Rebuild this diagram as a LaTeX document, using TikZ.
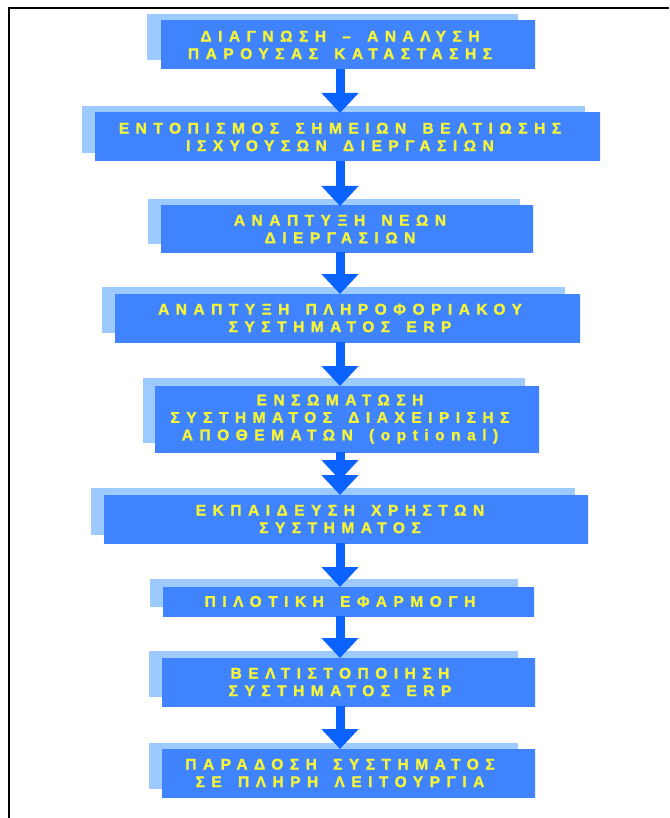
\documentclass[tikz,border=0pt]{standalone}
\usepackage{fontspec}
\usetikzlibrary{arrows.meta,fit,calc}
\newfontfamily\stepfont[LetterSpace=42,WordSpace=1.5,FakeBold=1.6]{Liberation Sans Bold}

\definecolor{shadowblue}{HTML}{9DCBFF}
\definecolor{boxedge}{HTML}{4083FF}
\definecolor{boxmid}{HTML}{1C63FF}
\definecolor{arrowblue}{HTML}{0A62FF}
\definecolor{labelyellow}{HTML}{F4F43A}

% one stage: shadow corners, main box corners, label
\newcommand\flowstage[6]{%
  \node[shadowbox, fit={(#2) (#3)}] (s#1) {};
  \node[mainbox, fit={(#4) (#5)}] (m#1) {};
  \node[steptext] (t#1) at (m#1.center -| axis) {#6};
}

\begin{document}
\begin{tikzpicture}[x=1pt,y=-1pt,
  shadowbox/.style={fill=shadowblue, draw=none, inner sep=0pt, outer sep=0pt},
  mainbox/.style={left color=boxedge, middle color=boxmid, right color=boxedge,
    draw=none, inner sep=0pt, outer sep=0pt},
  steptext/.style={text=labelyellow, font=\stepfont\fontsize{15.5}{17.5}\selectfont,
    align=center, inner sep=0pt},
  flow/.style={draw=arrowblue, line width=9pt, -{Triangle[length=20pt,width=36pt]}}]
\useasboundingbox (0,0) rectangle (669,818);
\fill[white] (0,0) rectangle (669,818);
\coordinate (axis) at (340,0);

% frame
\draw[line width=2pt] (669,7.7) -- (8.9,7.7) -- (8.9,818);

\flowstage{1}{147,14}{518,60}{161,21}{535,69}{ΔΙΑΓΝΩΣΗ – ΑΝΑΛΥΣΗ\\ΠΑΡΟΥΣΑΣ ΚΑΤΑΣΤΑΣΗΣ}
\flowstage{2}{82,106}{585,153}{95,113}{600,161}{ΕΝΤΟΠΙΣΜΟΣ ΣΗΜΕΙΩΝ ΒΕΛΤΙΩΣΗΣ\\ΙΣΧΥΟΥΣΩΝ ΔΙΕΡΓΑΣΙΩΝ}
\flowstage{3}{148,199}{520,244}{161,206}{533,252}{ΑΝΑΠΤΥΞΗ ΝΕΩΝ\\ΔΙΕΡΓΑΣΙΩΝ}
\flowstage{4}{102,287}{565,333}{115,294}{580,342}{ΑΝΑΠΤΥΞΗ ΠΛΗΡΟΦΟΡΙΑΚΟΥ\\ΣΥΣΤΗΜΑΤΟΣ ERP}
\flowstage{5}{143,378}{525,443}{155,386}{539,452}{ΕΝΣΩΜΑΤΩΣΗ\\ΣΥΣΤΗΜΑΤΟΣ ΔΙΑΧΕΙΡΙΣΗΣ\\ΑΠΟΘΕΜΑΤΩΝ (optional)}
\flowstage{6}{91,488}{575,535}{104,495}{588,543}{ΕΚΠΑΙΔΕΥΣΗ ΧΡΗΣΤΩΝ\\ΣΥΣΤΗΜΑΤΟΣ}
\flowstage{7}{150,579}{518,607}{163,587}{534,616}{ΠΙΛΟΤΙΚΗ ΕΦΑΡΜΟΓΗ}
\flowstage{8}{149,651}{518,697}{162,658}{535,706}{ΒΕΛΤΙΣΤΟΠΟΙΗΣΗ\\ΣΥΣΤΗΜΑΤΟΣ ERP}
\flowstage{9}{149,743}{518,789}{162,749}{535,797}{ΠΑΡΑΔΟΣΗ ΣΥΣΤΗΜΑΤΟΣ\\ΣΕ ΠΛΗΡΗ ΛΕΙΤΟΥΡΓΙΑ}

% connectors
\draw[flow] (t1 |- m1.south) -- (t2 |- m2.north);
\draw[flow] (t2 |- m2.south) -- (t3 |- m3.north);
\draw[flow] (t3 |- m3.south) -- (t4 |- m4.north);
\draw[flow] (t4 |- m4.south) -- (t5 |- m5.north);
\draw[flow] (t5 |- m5.south) -- ($(t6 |- m6.north)+(0,-15)$);
\draw[flow] (t5 |- m5.south) -- (t6 |- m6.north);
\draw[flow] (t6 |- m6.south) -- (t7 |- m7.north);
\draw[flow] (t7 |- m7.south) -- (t8 |- m8.north);
\draw[flow] (t8 |- m8.south) -- (t9 |- m9.north);
\end{tikzpicture}
\end{document}
